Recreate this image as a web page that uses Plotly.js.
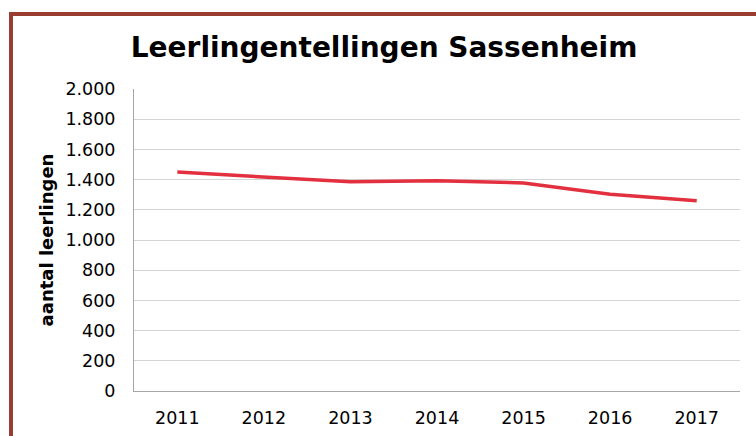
<!DOCTYPE html>
<html>
<head>
<meta charset="utf-8">
<script src="https://cdn.plot.ly/plotly-3.0.1.min.js"></script>
<style>
  html, body { margin: 0; padding: 0; background: #fff; }
  #wrap { position: relative; width: 756px; height: 436px; overflow: hidden; }
  #chart { position: absolute; left: 0; top: 0; width: 756px; height: 436px; }
  #frame { position: absolute; left: 9px; top: 12px; width: 800px; height: 500px;
           border-top: 4px solid #9a3c30; border-left: 4px solid #9a3c30; pointer-events: none; }
</style>
</head>
<body>
<div id="wrap">
  <div id="chart"></div>
  <div id="frame"></div>
</div>
<script>
const years = ['2011', '2012', '2013', '2014', '2015', '2016', '2017'];
const pupils = [1450, 1420, 1385, 1392, 1378, 1303, 1260];
const yTicks = [0, 200, 400, 600, 800, 1000, 1200, 1400, 1600, 1800, 2000];

const trace = {
  x: years,
  y: pupils,
  type: 'scatter',
  mode: 'lines',
  line: { color: '#e3303f', width: 3.5 },
  hoverinfo: 'skip'
};

const layout = {
  width: 756,
  height: 436,
  paper_bgcolor: '#ffffff',
  plot_bgcolor: '#ffffff',
  separators: ',.',
  margin: { l: 134, r: 16, t: 89, b: 45 },
  showlegend: false,
  title: {
    text: '<b>Leerlingentellingen Sassenheim</b>',
    font: { family: 'DejaVu Sans', size: 28, color: '#000' },
    x: 0.508, xanchor: 'center',
    y: 0.892, yanchor: 'middle'
  },
  xaxis: {
    type: 'category',
    range: [-0.5, 6.5],
    tickfont: { family: 'DejaVu Sans', size: 17.5, color: '#000' },
    showgrid: false,
    showline: true,
    linecolor: '#a6a6a6',
    linewidth: 1,
    ticks: 'outside',
    ticklen: 11,
    tickcolor: 'rgba(0,0,0,0)',
    fixedrange: true
  },
  yaxis: {
    range: [0, 2000],
    tickvals: yTicks,
    tickformat: ',d',
    tickfont: { family: 'DejaVu Sans', size: 17.5, color: '#000' },
    showgrid: true,
    gridcolor: '#d4d4d4',
    gridwidth: 1,
    showline: true,
    linecolor: '#a6a6a6',
    linewidth: 1,
    zeroline: false,
    ticks: 'outside',
    ticklen: 14,
    tickcolor: 'rgba(0,0,0,0)',
    title: {
      text: '<b>aantal leerlingen</b>',
      font: { family: 'DejaVu Sans', size: 18, color: '#000' },
      standoff: 7
    },
    fixedrange: true
  }
};

Plotly.newPlot('chart', [trace], layout, { staticPlot: true, displayModeBar: false });
</script>
</body>
</html>
